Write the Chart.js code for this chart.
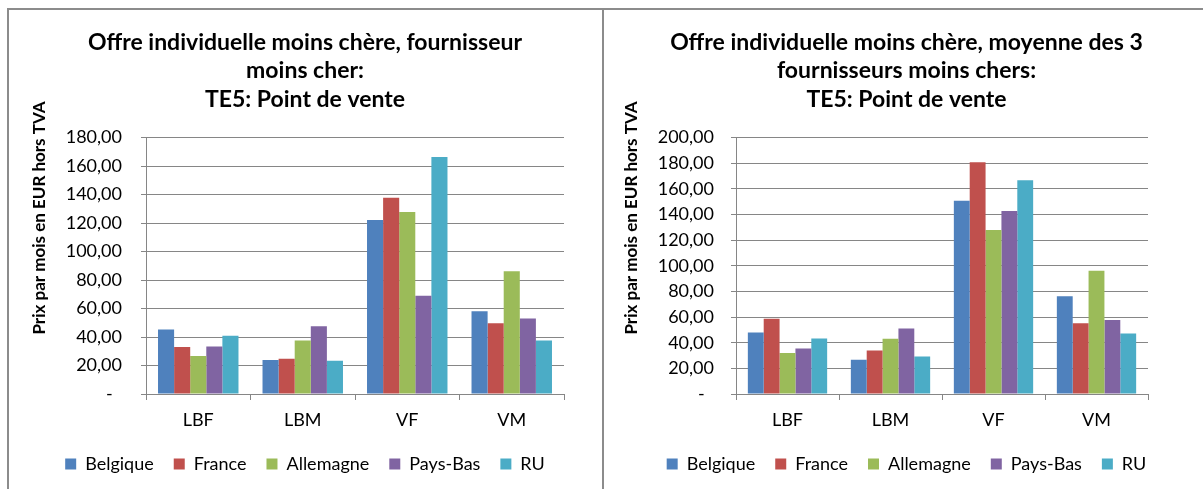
<!DOCTYPE html>
<html>
<head>
<meta charset="utf-8">
<script src="https://cdn.jsdelivr.net/npm/chart.js@4/dist/chart.umd.min.js"></script>
<style>
  body { margin: 0; background: #fff; width: 1203px; height: 489px; overflow: hidden; position: relative; }
  .box { position: absolute; }
  .line { position: absolute; background: #8c8c8c; z-index: 5; }
</style>
</head>
<body>
<div class="line" style="left:7px;top:8px;width:2px;height:481px"></div>
<div class="line" style="left:7px;top:8px;width:1196px;height:2px"></div>
<div class="line" style="left:602px;top:8px;width:2px;height:481px"></div>

<div class="box" style="left:10px;top:10px;width:590px;height:479px"><canvas id="chartA"></canvas></div>
<div class="box" style="left:606px;top:10px;width:597px;height:479px"><canvas id="chartB"></canvas></div>

<script>
let categories = ['LBF', 'LBM', 'VF', 'VM']
let countries = ['Belgique', 'France', 'Allemagne', 'Pays-Bas', 'RU']
let colors = ['#4F81BD', '#C0504D', '#9BBB59', '#8064A2', '#4BACC6']

// fournisseur moins cher
let belgiqueA = [45.2, 23.9, 122.1, 58.1]
let franceA = [33.0, 24.8, 137.8, 49.7]
let allemagneA = [26.7, 37.5, 127.7, 86.2]
let paysBasA = [33.3, 47.6, 68.9, 53.0]
let ruA = [40.8, 23.4, 166.4, 37.5]

// moyenne des 3 fournisseurs moins chers
let belgiqueB = [47.9, 26.8, 150.8, 76.3]
let franceB = [58.6, 33.9, 180.7, 55.2]
let allemagneB = [32.0, 43.0, 127.9, 96.1]
let paysBasB = [35.4, 51.0, 142.7, 57.8]
let ruB = [43.2, 29.2, 166.7, 47.1]

let titleA = ['Offre individuelle moins chère, fournisseur', 'moins cher:', 'TE5: Point de vente']
let titleB = ['Offre individuelle moins chère, moyenne des 3', 'fournisseurs moins chers:', 'TE5: Point de vente']
let yTitle = 'Prix par mois en EUR hors TVA'

let font = 'Lato'
let grey = '#868686'

// y axis title sits higher than the middle of the axis, like in the Excel original
let yTitlePlugin = {
    id: 'yTitle',
    afterDraw(chart, args, opts) {
        let c = chart.ctx
        c.save()
        c.translate(opts.x, opts.y)
        c.rotate(-Math.PI / 2)
        c.font = 'bold 17px ' + font
        c.fillStyle = '#000'
        c.textAlign = 'center'
        c.textBaseline = 'middle'
        c.fillText(yTitle, 0, 0)
        c.restore()
    }
}

function makeChart(id, title, series, yMax, o) {
    let ctx = document.getElementById(id).getContext('2d')
    let datasets = series.map((vals, i) => ({
        label: countries[i],
        data: vals,
        backgroundColor: colors[i],
        borderWidth: 0,
        categoryPercentage: 0.77,
        barPercentage: 1
    }))
    return new Chart(ctx, {
        type: 'bar',
        data: { labels: categories, datasets: datasets },
        options: {
            responsive: true,
            maintainAspectRatio: false,
            animation: false,
            layout: { padding: { left: o.left, right: 0, top: 0, bottom: 6 } },
            scales: {
                x: {
                    grid: { offset: true, drawOnChartArea: false, color: grey, tickLength: 6 },
                    border: { color: grey },
                    ticks: { color: '#000', font: { family: font, size: 18 }, padding: 9 },
                    afterFit: s => { s.height = 41 }
                },
                y: {
                    min: 0, max: yMax,
                    grid: { color: grey, tickLength: 5 },
                    border: { color: grey },
                    ticks: {
                        stepSize: 20, color: '#000', padding: o.tickPad,
                        font: { family: font, size: 18 },
                        callback: v => v === 0 ? '-  ' : v.toFixed(2).replace('.', ',')
                    },
                    afterFit: s => { s.width = o.yWidth }
                },
                // empty space right of the plot
                pad: {
                    type: 'linear', position: 'right', display: true,
                    grid: { display: false }, border: { display: false },
                    ticks: { display: false },
                    afterFit: s => { s.width = o.rightPad }
                }
            },
            plugins: {
                title: {
                    display: true, text: title, color: '#000',
                    font: { family: font, size: 23, weight: 'bold', lineHeight: 1.24 },
                    padding: { top: 18, bottom: 24 }
                },
                legend: {
                    position: 'bottom',
                    labels: {
                        color: '#000', boxWidth: 11, boxHeight: 11, padding: 20,
                        font: { family: font, size: 18 }
                    }
                },
                yTitle: { x: o.yTitleX, y: 208 },
                tooltip: { enabled: false }
            }
        },
        plugins: [yTitlePlugin]
    })
}

let chartA = makeChart('chartA', titleA, [belgiqueA, franceA, allemagneA, paysBasA, ruA], 180,
    { left: 0, yWidth: 136, rightPad: 36, tickPad: 19, yTitleX: 30 })
let chartB = makeChart('chartB', titleB, [belgiqueB, franceB, allemagneB, paysBasB, ruB], 200,
    { left: 4, yWidth: 126, rightPad: 55, tickPad: 17, yTitleX: 26 })
</script>
</body>
</html>
